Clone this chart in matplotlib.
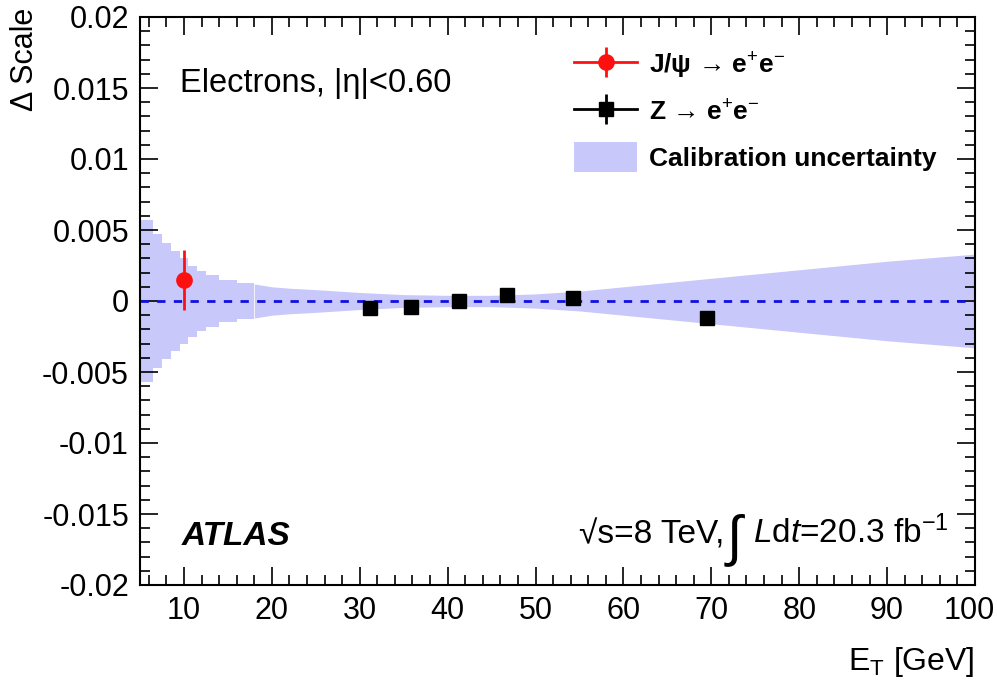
import numpy as np
import matplotlib.pyplot as plt
import matplotlib.transforms as mtransforms
from matplotlib.lines import Line2D
from matplotlib.patches import Patch
from matplotlib.legend_handler import HandlerTuple
from matplotlib.ticker import MultipleLocator

plt.rcParams['font.family'] = ['Liberation Sans', 'DejaVu Sans']
plt.rcParams['mathtext.fontset'] = 'custom'
plt.rcParams['mathtext.rm'] = 'Liberation Sans'
plt.rcParams['mathtext.it'] = 'Liberation Sans:italic'
plt.rcParams['mathtext.bf'] = 'Liberation Sans:bold'

# calibration uncertainty (half width of the band)
# stepped part at low E_T
band_step_edges = [5, 6.5, 7.5, 8.5, 9.5, 10.5, 11.5, 12.5, 14, 16, 18]
band_step_width = [0.0057, 0.0047, 0.0041, 0.0035, 0.0030, 0.0025, 0.0021, 0.0018, 0.0015, 0.0013]
# smooth part
band_et = [18, 20, 22, 25, 30, 35, 40, 45, 50, 55, 60, 70, 80, 90, 100]
band_width = [0.0012, 0.0010, 0.0009, 0.0008, 0.0006, 0.00045, 0.0004, 0.0004,
              0.0005, 0.0007, 0.0010, 0.0016, 0.0022, 0.0028, 0.0033]

# J/psi -> ee
jpsi_et = [10]
jpsi_ds = [0.0015]
jpsi_err = [0.0021]

# Z -> ee
z_et = [31.2, 35.8, 41.3, 46.7, 54.3, 69.5]
z_ds = [-0.0005, -0.0004, 0.0, 0.0004, 0.0002, -0.0012]

band_col = '#c8c8fa'

fig = plt.figure(figsize=(9.97, 6.85), dpi=100)
ax = fig.add_axes([140/997, 1-585/685, 835/997, 568/685])

sw = np.array(band_step_width + band_step_width[-1:])
ax.fill_between(band_step_edges, -sw, sw, step='post', color=band_col, lw=0)
bw = np.array(band_width)
ax.fill_between(band_et, -bw, bw, color=band_col, lw=0)

ax.axhline(0, color='#1010e0', lw=2, ls=(0, (3, 3)))

ax.errorbar(jpsi_et, jpsi_ds, yerr=jpsi_err, fmt='o', color='#ff1010', ms=11, elinewidth=2, capsize=0)
ax.plot(z_et, z_ds, 's', color='black', ms=10)

ax.set_xlim(5, 100)
ax.set_ylim(-0.02, 0.02)
ax.set_xticks(np.arange(10, 101, 10))
ax.xaxis.set_minor_locator(MultipleLocator(2))
ax.set_yticks([-0.02, -0.015, -0.01, -0.005, 0, 0.005, 0.01, 0.015, 0.02])
ax.set_yticklabels(['-0.02', '-0.015', '-0.01', '-0.005', '0', '0.005', '0.01', '0.015', '0.02'])
ax.yaxis.set_minor_locator(MultipleLocator(0.001))
ax.tick_params(which='both', direction='in', top=True, right=True, width=1.2, labelsize=22, pad=8)
ax.tick_params(which='major', length=13)
ax.tick_params(which='minor', length=7)
for s in ax.spines.values():
    s.set_linewidth(1.5)

# keep the last x tick label inside the figure
last = ax.get_xticklabels()[-1]
last.set_transform(last.get_transform() + mtransforms.ScaledTranslation(-6/100, 0, fig.dpi_scale_trans))

fig.text(25/997, 1-8/685, 'Δ Scale', rotation=90, ha='center', va='top', fontsize=22)
fig.text(975/997, 1-670/685, r'E$_{\mathrm{T}}$ [GeV]', ha='right', va='baseline', fontsize=23)

fig.text(180/997, 1-92/685, 'Electrons, |η|<0.60', fontsize=23.5)
fig.text(182/997, 1-545/685, 'ATLAS', fontsize=24, fontweight='bold', fontstyle='italic')
fig.text(724/997, 1-543/685, '√s=8 TeV,', ha='right', va='baseline', fontsize=24)
fig.text(734/997, 1-540/685, '∫', ha='center', va='center', fontsize=40)
fig.text(753/997, 1-543/685, r'$L$d$t$=20.3 fb$^{\mathrm{-1}}$', ha='left', va='baseline', fontsize=24)

h_jpsi = (Line2D([], [], color='#ff1010', marker='o', ms=11, lw=2),
          Line2D([], [], color='#ff1010', marker='|', ms=22, mew=2, ls='none'))
h_z = (Line2D([], [], color='black', marker='s', ms=10, lw=2),
       Line2D([], [], color='black', marker='|', ms=22, mew=2, ls='none'))
h_band = Patch(color=band_col, lw=0)
ax.legend([h_jpsi, h_z, h_band],
          [r'J/ψ → e$^{+}$e$^{-}$', r'Z → e$^{+}$e$^{-}$', 'Calibration uncertainty'],
          handler_map={tuple: HandlerTuple(ndivide=1)},
          loc='upper left', bbox_to_anchor=(574/997, 1-50/685), bbox_transform=fig.transFigure,
          frameon=False, prop={'weight': 'bold', 'size': 19}, handlelength=2.4,
          handleheight=1.35, handletextpad=0.45, labelspacing=0.6, borderpad=0, borderaxespad=0)

fig.savefig('out.png', dpi=100)
